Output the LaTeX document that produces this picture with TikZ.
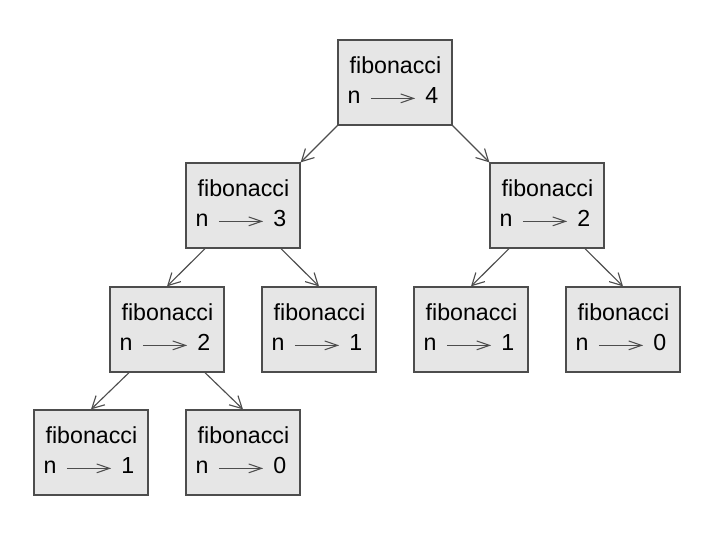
\documentclass[tikz,border=0pt]{standalone}
\usepackage{fontspec}
\setmainfont{Liberation Sans}
\usetikzlibrary{arrows.meta}

\definecolor{framefill}{HTML}{E6E6E6}
\definecolor{frameline}{HTML}{4D4D4D}

% one stack frame: box, function name, n --> value
\newcommand{\fibframe}[3]{%
  \node[callbox] (#1) at (#2) {};
  \node[callword, anchor=base west] (#1-name) at ([shift={(0.3,-0.85)}]#1.north west) {fibonacci};
  \node[callword, anchor=base west] (#1-var) at ([shift={(0.25,-1.6)}]#1.north west) {n};
  \node[callword, anchor=base east] (#1-val) at ([shift={(-0.35,-1.6)}]#1.north east) {#3};
  \draw[bindarrow] (#1-var) -- (#1-val);
}

\begin{document}
\begin{tikzpicture}
\tikzstyle{callbox}=
[
    %Sets size and colours of a frame
    draw=frameline, fill=framefill, line width=0.9pt,
    minimum width=2.85cm, minimum height=2.125cm, inner sep=0pt
    ]
\tikzstyle{callword}=
[
    %Text inside a frame
    inner sep=0pt, text height=0.25cm, text depth=0pt,
    font=\fontsize{16.5}{20}\selectfont
    ]
\tikzstyle{bindarrow}=
[
    %Arrow from n to its value
    draw=frameline, line width=0.75pt, shorten <=0.25cm, shorten >=0.25cm,
    -{Straight Barb[length=3.2mm,width=2.2mm]}
    ]
\tikzstyle{callarrow}=
[
    %Arrow from caller to callee
    draw=frameline, line width=0.8pt,
    -{Straight Barb[length=3mm,width=3.2mm]}
    ]

\useasboundingbox (0,0) rectangle (17.9,-13.45);

%Frames, level by level
\fibframe{top}{9.875,-2.0625}{4}
\fibframe{a}{6.075,-5.1375}{3}
\fibframe{b}{13.675,-5.1375}{2}
\fibframe{c}{4.175,-8.2375}{2}
\fibframe{d}{7.975,-8.2375}{1}
\fibframe{e}{11.775,-8.2375}{1}
\fibframe{f}{15.575,-8.2375}{0}
\fibframe{g}{2.275,-11.3125}{1}
\fibframe{h}{6.075,-11.3125}{0}

%Calls
\draw[callarrow] (top.south west) -- (a.north east);
\draw[callarrow] (top.south east) -- (b.north west);
\draw[callarrow] ([xshift=-0.95cm]a.south) -- (c.north);
\draw[callarrow] ([xshift=0.95cm]a.south) -- (d.north);
\draw[callarrow] ([xshift=-0.95cm]b.south) -- (e.north);
\draw[callarrow] ([xshift=0.95cm]b.south) -- (f.north);
\draw[callarrow] ([xshift=-0.95cm]c.south) -- (g.north);
\draw[callarrow] ([xshift=0.95cm]c.south) -- (h.north);
\end{tikzpicture}
\end{document}
